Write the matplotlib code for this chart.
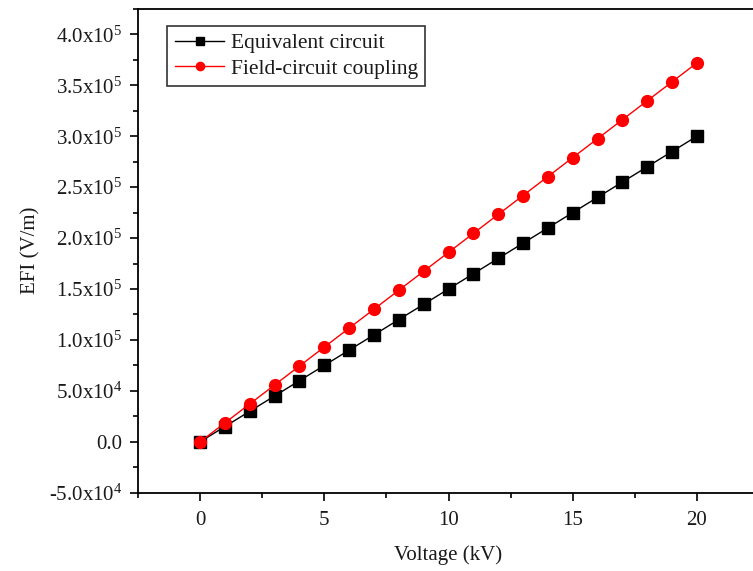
import matplotlib
matplotlib.use("Agg")
import matplotlib.pyplot as plt
from matplotlib.ticker import MultipleLocator

plt.rcParams['font.family'] = ['Liberation Serif', 'DejaVu Serif']
plt.rcParams['mathtext.fontset'] = 'custom'
plt.rcParams['mathtext.rm'] = 'Liberation Serif'

# data
voltage = [0, 1, 2, 3, 4, 5, 6, 7, 8, 9, 10, 11, 12, 13, 14, 15, 16, 17, 18, 19, 20]
equivalent = [0, 15000, 30000, 45000, 60000, 75000, 90000, 105000, 120000, 135000, 150000,
              165000, 180000, 195000, 210000, 225000, 240000, 255000, 270000, 285000, 300000]
field_coupling = [0, 18600, 37200, 55800, 74400, 93000, 111600, 130200, 148800, 167400, 186000,
                  204600, 223200, 241800, 260400, 279000, 297600, 316200, 334800, 353400, 372000]

y_ticks = [-50000, 0, 50000, 100000, 150000, 200000, 250000, 300000, 350000, 400000]
y_labels = [r'-$\mathregular{5.0x10^4}$', '0.0', r'$\mathregular{5.0x10^4}$',
            r'$\mathregular{1.0x10^5}$', r'$\mathregular{1.5x10^5}$', r'$\mathregular{2.0x10^5}$',
            r'$\mathregular{2.5x10^5}$', r'$\mathregular{3.0x10^5}$', r'$\mathregular{3.5x10^5}$',
            r'$\mathregular{4.0x10^5}$']
x_ticks = [0, 5, 10, 15, 20]

txt = '#1a1a1a'

fig = plt.figure(figsize=(7.53, 5.71), dpi=100)
ax = fig.add_axes([0.1833, 0.1371, 0.8247, 0.8473])

ax.plot(voltage, equivalent, color='black', marker='s', markersize=8, lw=1,
        label='Equivalent circuit')
ax.plot(voltage, field_coupling, color='red', marker='o', markersize=8.5, lw=1,
        label='Field-circuit coupling')

ax.set_xlim(-2.5, 22.5)
ax.set_ylim(-50000, 425000)
ax.set_xticks(x_ticks)
ax.set_yticks(y_ticks)
ax.set_yticklabels(y_labels)
ax.xaxis.set_minor_locator(MultipleLocator(2.5))
ax.yaxis.set_minor_locator(MultipleLocator(25000))
ax.tick_params(which='major', direction='out', length=6, width=1.2, labelsize=15,
               labelcolor=txt, pad=5)
ax.tick_params(which='minor', direction='out', length=3.5, width=1.2)
ax.tick_params(axis='x', pad=7)
for s in ax.spines.values():
    s.set_linewidth(1.3)

ax.set_xlabel('Voltage (kV)', fontsize=15, color=txt, labelpad=11)
ax.set_ylabel('EFI (V/m)', fontsize=15, color=txt, labelpad=6)

leg = ax.legend(loc='upper left', bbox_to_anchor=(0.047, 0.965), borderaxespad=0,
                fontsize=15.5, frameon=True, fancybox=False, edgecolor='black',
                handlelength=2.3, handletextpad=0.3, borderpad=0.35, labelspacing=0.25,
                markerscale=0.7)
leg.get_frame().set_linewidth(1.2)
for t in leg.get_texts():
    t.set_color(txt)

fig.savefig('out.png', dpi=100)
